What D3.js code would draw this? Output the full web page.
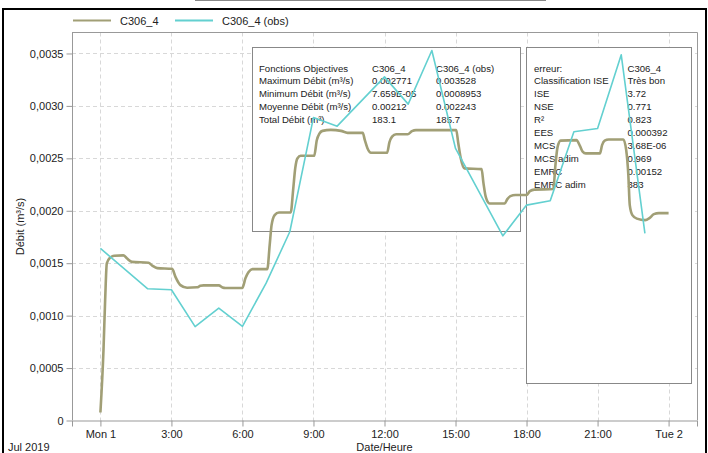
<!DOCTYPE html>
<html>
<head>
<meta charset="utf-8">
<script src="https://cdn.jsdelivr.net/npm/d3@7"></script>
<style>
  html, body { margin: 0; padding: 0; background: #fff; }
  svg { display: block; font-family: "Liberation Sans", Arial, sans-serif; }
</style>
</head>
<body>
<svg id="chart" width="708" height="453"></svg>
<script>
// Simulated flow C306_4 (hours after 2019-07-01 00:00, m³/s)
const simHours = [0, 0.13, 0.2, 0.27, 0.41, 0.58, 0.97, 1.13, 1.33, 2.03, 2.19, 2.4, 3.03, 3.17, 3.38, 3.66,
  4.08, 4.22, 4.36, 5.0, 5.16, 5.28, 5.99, 6.13, 6.26, 6.42, 7.05, 7.15, 7.23, 7.36, 7.54, 8.04,
  8.14, 8.23, 8.32, 8.46, 9.03, 9.14, 9.25, 9.38, 9.73, 10.16, 10.44, 11.08, 11.17, 11.28, 11.43,
  12.11, 12.21, 12.32, 12.49, 12.98, 13.16, 13.33, 15.03, 15.11, 15.22, 15.38, 16.1, 16.18, 16.28,
  16.44, 17.08, 17.19, 17.32, 17.53, 18.0, 18.14, 18.33, 19.13, 19.22, 19.31, 19.44, 20.11, 20.26,
  20.37, 20.5, 21.1, 21.19, 21.3, 21.47, 22.09, 22.21, 22.3, 22.36, 22.47, 22.66, 23.01, 23.19,
  23.38, 23.59, 24.0];
const simFlow = [0.0000766, 0.000672, 0.00115, 0.001498, 0.001553, 0.001571, 0.001575, 0.001544, 0.001513,
  0.001504, 0.001477, 0.001453, 0.001447, 0.00137, 0.001291, 0.001266, 0.00127, 0.001284, 0.001289,
  0.001289, 0.001268, 0.001263, 0.001263, 0.001358, 0.001415, 0.001444, 0.001444, 0.001673, 0.001863,
  0.001959, 0.001984, 0.001984, 0.002197, 0.002407, 0.002499, 0.002524, 0.002524, 0.002673, 0.002735,
  0.002762, 0.002771, 0.002762, 0.002743, 0.002743, 0.002673, 0.002597, 0.002553, 0.002553, 0.002654,
  0.002707, 0.00273, 0.00273, 0.002759, 0.002769, 0.002769, 0.002654, 0.002502, 0.002404, 0.002397,
  0.002264, 0.00213, 0.00207, 0.00207, 0.002111, 0.00214, 0.00215, 0.00215, 0.002187, 0.002202,
  0.002207, 0.002435, 0.002607, 0.002669, 0.002674, 0.002616, 0.002564, 0.002547, 0.002547, 0.002626,
  0.002669, 0.00268, 0.00268, 0.002578, 0.00234, 0.002054, 0.001959, 0.001925, 0.001911, 0.00193,
  0.001968, 0.001978, 0.001978];

// Observed flow C306_4 (obs)
const obsHours = [0, 2, 3, 4, 5, 6, 7, 8, 9, 10, 12, 13, 14, 15, 17, 18, 19, 20, 21, 22, 23];
const obsFlow = [0.001641, 0.001256, 0.001247, 0.0008953, 0.001072, 0.000898, 0.00131, 0.0018, 0.00289,
  0.002807, 0.003277, 0.003017, 0.003528, 0.002594, 0.001761, 0.002054, 0.002095, 0.002753, 0.002785,
  0.003487, 0.001784];

const seriesNames = ["C306_4", "C306_4 (obs)"];
const yTicks = [0, 0.0005, 0.001, 0.0015, 0.002, 0.0025, 0.003, 0.0035];

// Objective-function table
const objRows = ["Fonctions Objectives", "Maximum Débit (m³/s)", "Minimum Débit (m³/s)", "Moyenne Débit (m³/s)", "Total Débit (m³)"];
const objSim = ["C306_4", "0.002771", "7.659E-05", "0.00212", "183.1"];
const objObs = ["C306_4 (obs)", "0.003528", "0.0008953", "0.002243", "185.7"];

// Error table
const errRows = ["erreur:", "Classification ISE", "ISE", "NSE", "R²", "EES", "MCS", "MCS adim", "EMRC", "EMRC adim"];
const errVals = ["C306_4", "Très bon", "3.72", "0.771", "0.823", "0.000392", "3.68E-06", "0.969", "0.00152", "383"];

const colors = { sim: "#a19f76", obs: "#63d0d0", axis: "#999", grid: "#d8d8d8", text: "#222" };

const t0 = Date.UTC(2019, 6, 1);
const toDate = h => new Date(t0 + h * 3600e3);

const svg = d3.select("#chart");
const plot = { left: 72, right: 697, top: 32.5, bottom: 420.5 };

// Outer frame
svg.append("rect").attr("x", 195.5).attr("y", -10).attr("width", 350).attr("height", 10.5)
  .attr("fill", "none").attr("stroke", "#888");
svg.append("rect").attr("x", 3).attr("y", 9).attr("width", 703).attr("height", 460)
  .attr("fill", "none").attr("stroke", "#000").attr("stroke-width", 2);

const x = d3.scaleUtc().domain([toDate(-1.2), toDate(25.2)]).range([plot.left, plot.right]);
const y = d3.scaleLinear().domain([0, 0.0037]).range([plot.bottom, plot.top]);

const xTicks = d3.range(0, 25, 3).map(toDate);
const fmtDay = d3.utcFormat("%a %-d");
const fmtHour = d3.utcFormat("%-H:%M");
const xFmt = d => (d.getUTCHours() === 0 ? fmtDay(d) : fmtHour(d));
const locale = d3.formatLocale({ decimal: ",", thousands: " ", grouping: [3], currency: ["", ""] });
const yFmtNum = locale.format(".4f");
const yFmt = d => (d === 0 ? "0" : yFmtNum(d));

// Grid
const grid = svg.append("g").attr("stroke", colors.grid).attr("stroke-dasharray", "4,3");
grid.selectAll("line.v").data(xTicks).join("line")
  .attr("x1", d => Math.round(x(d)) + 0.5).attr("x2", d => Math.round(x(d)) + 0.5)
  .attr("y1", plot.top).attr("y2", plot.bottom);
grid.selectAll("line.h").data(yTicks.slice(1)).join("line")
  .attr("y1", d => Math.round(y(d)) + 0.5).attr("y2", d => Math.round(y(d)) + 0.5)
  .attr("x1", plot.left).attr("x2", plot.right);

// Plot frame (top and right)
svg.append("path")
  .attr("d", `M${plot.left},${plot.top}H${plot.right + 0.5}V${plot.bottom}`)
  .attr("fill", "none").attr("stroke", colors.axis);

// Axes
const xAxis = svg.append("g").attr("transform", `translate(0,${plot.bottom})`)
  .call(d3.axisBottom(x).tickValues(xTicks).tickFormat(xFmt).tickSizeOuter(0).tickSize(6).tickPadding(4));
const yAxis = svg.append("g").attr("transform", `translate(${plot.left + 0.5},0)`)
  .call(d3.axisLeft(y).tickValues(yTicks).tickFormat(yFmt).tickSizeOuter(0).tickSize(6).tickPadding(3));
[xAxis, yAxis].forEach(a => {
  a.select(".domain").attr("stroke", colors.axis);
  a.selectAll(".tick line").attr("stroke", colors.axis);
  a.selectAll(".tick text").attr("fill", colors.text).attr("font-size", 11)
    .attr("font-family", "'Liberation Sans', Arial, sans-serif");
});
yAxis.select(".domain").attr("d", `M0,${plot.top}V${plot.bottom}`);

// Axis titles
svg.append("text").attr("x", 8).attr("y", 451).attr("font-size", 11).attr("fill", colors.text).text("Jul 2019");
svg.append("text").attr("x", (plot.left + plot.right) / 2).attr("y", 451).attr("text-anchor", "middle")
  .attr("font-size", 11).attr("fill", colors.text).text("Date/Heure");
svg.append("text").attr("transform", `translate(24,${(plot.top + plot.bottom) / 2}) rotate(-90)`)
  .attr("text-anchor", "middle").attr("font-size", 11).attr("fill", colors.text).text("Débit (m³/s)");

// Legend
const legend = [{ name: seriesNames[0], color: colors.sim, x: 73 }, { name: seriesNames[1], color: colors.obs, x: 175 }];
legend.forEach(l => {
  svg.append("line").attr("x1", l.x).attr("x2", l.x + 38).attr("y1", 20.5).attr("y2", 20.5)
    .attr("stroke", l.color).attr("stroke-width", 2);
  svg.append("text").attr("x", l.x + 47).attr("y", 24.5).attr("font-size", 11).attr("fill", colors.text).text(l.name);
});

// Statistics boxes
function box(x0, y0, w, h) {
  svg.append("rect").attr("x", x0).attr("y", y0).attr("width", w).attr("height", h)
    .attr("fill", "#fff").attr("stroke", "#888");
}
const rowY = i => 71.5 + i * 12.9;
const tfs = 9.6;
box(252.5, 47.5, 268, 184);
const g1 = svg.append("g").attr("font-size", tfs).attr("fill", colors.text);
[[objRows, 259], [objSim, 372], [objObs, 436]].forEach(([col, cx]) => {
  g1.selectAll(null).data(col).join("text").attr("x", cx).attr("y", (d, i) => rowY(i)).text(d => d);
});
box(526.5, 47.5, 165, 336);
const g2 = svg.append("g").attr("font-size", tfs).attr("fill", colors.text);
[[errRows, 534], [errVals, 627.5]].forEach(([col, cx]) => {
  g2.selectAll(null).data(col).join("text").attr("x", cx).attr("y", (d, i) => rowY(i)).text(d => d);
});

// Series
const simData = simHours.map((h, i) => ({ t: toDate(h), v: simFlow[i] }));
const obsData = obsHours.map((h, i) => ({ t: toDate(h), v: obsFlow[i] }));
const lineSim = d3.line().x(d => x(d.t)).y(d => y(d.v)).curve(d3.curveMonotoneX);
const lineObs = d3.line().x(d => x(d.t)).y(d => y(d.v));
svg.append("path").datum(simData).attr("d", lineSim).attr("fill", "none")
  .attr("stroke", colors.sim).attr("stroke-width", 2.6).attr("stroke-linejoin", "round");
svg.append("path").datum(obsData).attr("d", lineObs).attr("fill", "none")
  .attr("stroke", colors.obs).attr("stroke-width", 1.6).attr("stroke-linejoin", "round");
</script>
</body>
</html>
